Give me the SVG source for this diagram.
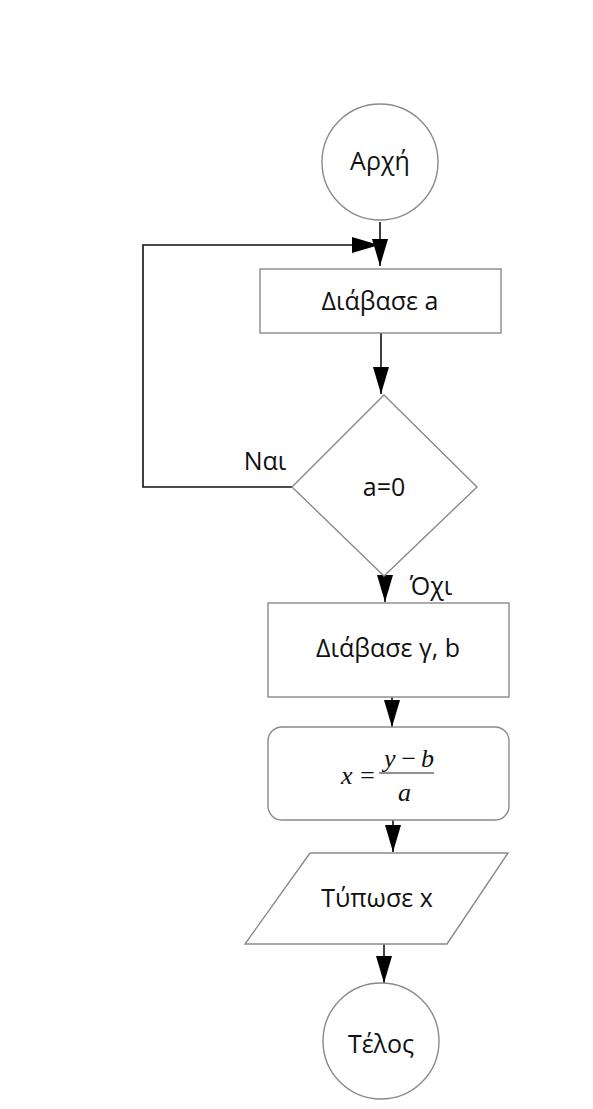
<svg xmlns="http://www.w3.org/2000/svg" width="593" height="1109" viewBox="0 0 593 1109">
<style>
.shape{fill:#fff;stroke:#8a8a8a;stroke-width:1.4}
.conn{fill:none;stroke:#111;stroke-width:1.6}
.lbl{font-family:"Open Sans","Noto Sans",sans-serif;font-size:25px;fill:#111;text-anchor:middle}
.math{font-family:"Liberation Serif",serif;font-style:italic;font-size:26px;fill:#111}
</style>
<defs>
<marker id="arr" viewBox="0 0 27 16" refX="27" refY="8" markerWidth="27" markerHeight="16" markerUnits="userSpaceOnUse" orient="auto">
<path d="M0,0 L27,8 L0,16 Z" fill="#000"/>
</marker>
</defs>
<rect width="593" height="1109" fill="#fff"/>
<g id="connectors">
<path class="conn" d="M380,222 L380,266" marker-end="url(#arr)"/>
<path class="conn" d="M292,487 L143,487 L143,245 L379,245" marker-end="url(#arr)"/>
<path class="conn" d="M381,333 L381,394" marker-end="url(#arr)"/>
<path class="conn" d="M385,575 L385,602" marker-end="url(#arr)"/>
<path class="conn" d="M392,697 L392,727" marker-end="url(#arr)"/>
<path class="conn" d="M393,820 L393,852" marker-end="url(#arr)"/>
<path class="conn" d="M384,944 L384,983" marker-end="url(#arr)"/>
</g>
<g id="start">
<circle class="shape" cx="380" cy="162" r="58"/>
<text class="lbl" x="380" y="170">Αρχή</text>
</g>
<g id="read-a">
<rect class="shape" x="260" y="269" width="241" height="64"/>
<text class="lbl" x="380" y="310">Διάβασε a</text>
</g>
<g id="decision">
<polygon class="shape" points="384,395 477,487 384,576 292,487"/>
<text class="lbl" x="384" y="496">a=0</text>
<text class="lbl" x="265" y="470">Ναι</text>
<text class="lbl" x="431" y="595">Όχι</text>
</g>
<g id="read-yb">
<rect class="shape" x="268" y="603" width="241" height="94"/>
<text class="lbl" x="388" y="657">Διάβασε γ, b</text>
</g>
<g id="compute">
<rect class="shape" x="268" y="727" width="241" height="93" rx="14" ry="14"/>
<text class="math" x="341" y="784" textLength="35">x=</text>
<text class="math" x="384" y="767" textLength="50">y−b</text>
<line x1="379" y1="773" x2="434" y2="773" stroke="#222" stroke-width="1"/>
<text class="math" x="398" y="801">a</text>
</g>
<g id="print">
<polygon class="shape" points="310,853 508,853 447,944 245,944"/>
<text class="lbl" x="377" y="907">Τύπωσε x</text>
</g>
<g id="end">
<circle class="shape" cx="381" cy="1041" r="58"/>
<text class="lbl" x="381" y="1053">Τέλος</text>
</g>
</svg>
